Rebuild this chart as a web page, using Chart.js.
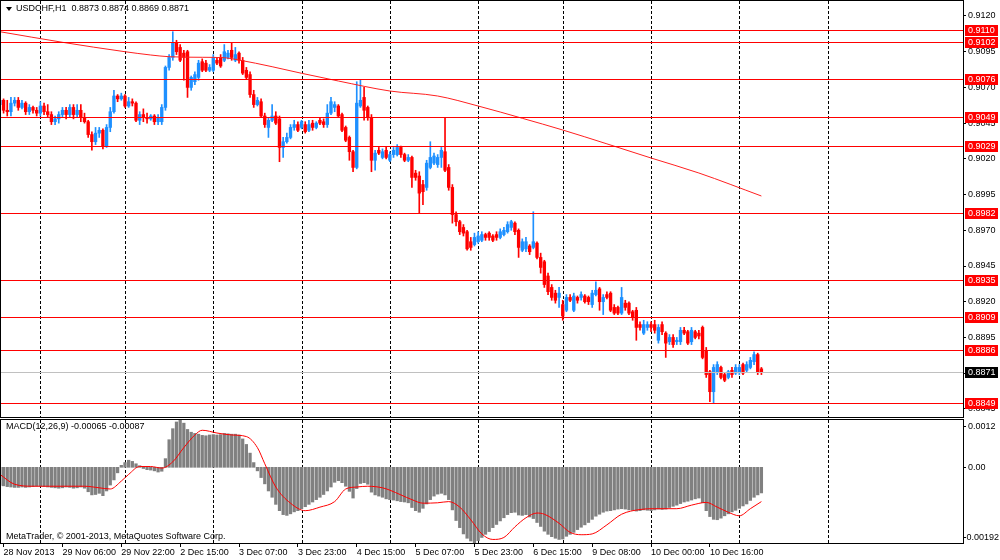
<!DOCTYPE html>
<html>
<head>
<meta charset="utf-8">
<title>USDCHF,H1</title>
<script src="https://cdn.jsdelivr.net/npm/chart.js@4.4.0/dist/chart.umd.min.js"></script>
<style>
  html, body { margin: 0; padding: 0; background: #fff; }
  #wrap { position: relative; width: 1000px; height: 560px; overflow: hidden; font-family: "Liberation Sans", Arial, sans-serif; }
  #main { position: absolute; left: 0; top: 0; }
  #macd { position: absolute; left: 0; top: 418px; }
  .lbl { position: absolute; font-size: 9px; line-height: 11px; color: #000; white-space: pre; }
  .tri { position: absolute; left: 6px; top: 7px; width: 0; height: 0; border-left: 3px solid transparent; border-right: 3px solid transparent; border-top: 4px solid #000; }
</style>
</head>
<body>
<div id="wrap">
  <canvas id="main" width="1000" height="418"></canvas>
  <canvas id="macd" width="1000" height="142"></canvas>
  <div class="tri"></div>
  <div class="lbl" style="left:16px;top:3px">USDCHF,H1  0.8873 0.8874 0.8869 0.8871</div>
  <div class="lbl" style="left:6px;top:421px">MACD(12,26,9) -0.00065 -0.00087</div>
  <div class="lbl" style="left:6px;top:531px">MetaTrader, © 2001-2013, MetaQuotes Software Corp.</div>
</div>
<script>
// hourly bars, 28 Nov 2013 13:00 .. 11 Dec 2013 06:00
const opens = [
  0.9058,0.9061,0.9054,0.9053,0.9059,0.9061,0.9056,0.9059,0.9053,0.9056,
  0.9054,0.9052,0.9057,0.9053,0.9051,0.9046,0.9048,0.9051,0.9054,0.9051,
  0.9056,0.9051,0.9054,0.9049,0.9046,0.9037,0.9032,0.9038,0.9040,0.9029,
  0.9042,0.9053,0.9064,0.9062,0.9064,0.9057,0.9060,0.9059,0.9047,0.9051,
  0.9049,0.9048,0.9050,0.9046,0.9046,0.9056,0.9084,0.9091,0.9101,0.9098,
  0.9094,0.9095,0.9070,0.9074,0.9077,0.9088,0.9087,0.9082,0.9082,0.9089,
  0.9091,0.9089,0.9091,0.9096,0.9089,0.9094,0.9089,0.9082,0.9079,0.9065,
  0.9058,0.9060,0.9050,0.9042,0.9047,0.9050,0.9048,0.9028,0.9032,0.9035,
  0.9042,0.9044,0.9042,0.9044,0.9040,0.9045,0.9042,0.9047,0.9046,0.9044,
  0.9052,0.9056,0.9057,0.9051,0.9042,0.9035,0.9025,0.9014,0.9057,0.9063,
  0.9056,0.9049,0.9019,0.9026,0.9021,0.9026,0.9019,0.9023,0.9023,0.9028,
  0.9023,0.9019,0.9021,0.9010,0.9008,0.9002,0.9000,0.9014,0.9017,0.9016,
  0.9021,0.9025,0.9014,0.9000,0.8981,0.8976,0.8972,0.8969,0.8962,0.8960,
  0.8962,0.8963,0.8967,0.8968,0.8966,0.8967,0.8965,0.8967,0.8969,0.8972,
  0.8975,0.8970,0.8956,0.8957,0.8959,0.8958,0.8961,0.8951,0.8948,0.8938,
  0.8930,0.8926,0.8923,0.8918,0.8914,0.8923,0.8914,0.8923,0.8923,0.8924,
  0.8923,0.8918,0.8925,0.8929,0.8920,0.8925,0.8926,0.8916,0.8916,0.8912,
  0.8919,0.8919,0.8913,0.8914,0.8904,0.8898,0.8902,0.8904,0.8904,0.8893,
  0.8904,0.8898,0.8892,0.8895,0.8892,0.8892,0.8900,0.8899,0.8892,0.8899,
  0.8898,0.8902,0.8886,0.8871,0.8857,0.8871,0.8874,0.8869,0.8867,0.8872,
  0.8870,0.8871,0.8876,0.8872,0.8874,0.8878,0.8883,0.8873
];
const highs = [
  0.9064,0.9062,0.9061,0.9063,0.9063,0.9063,0.9061,0.9060,0.9058,0.9057,
  0.9056,0.9060,0.9059,0.9058,0.9053,0.9050,0.9053,0.9056,0.9056,0.9058,
  0.9058,0.9058,0.9058,0.9052,0.9047,0.9039,0.9042,0.9042,0.9041,0.9044,
  0.9056,0.9068,0.9065,0.9066,0.9065,0.9063,0.9062,0.9060,0.9053,0.9055,
  0.9052,0.9051,0.9051,0.9051,0.9058,0.9085,0.9093,0.9109,0.9103,0.9100,
  0.9096,0.9096,0.9078,0.9081,0.9089,0.9090,0.9089,0.9086,0.9093,0.9091,
  0.9093,0.9100,0.9096,0.9101,0.9098,0.9095,0.9091,0.9084,0.9081,0.9068,
  0.9063,0.9062,0.9052,0.9049,0.9058,0.9053,0.9050,0.9035,0.9038,0.9044,
  0.9047,0.9046,0.9047,0.9046,0.9047,0.9047,0.9046,0.9049,0.9048,0.9058,
  0.9063,0.9060,0.9058,0.9052,0.9043,0.9036,0.9026,0.9074,0.9075,0.9070,
  0.9057,0.9051,0.9026,0.9028,0.9027,0.9028,0.9025,0.9028,0.9030,0.9029,
  0.9024,0.9023,0.9022,0.9012,0.9011,0.9005,0.9019,0.9032,0.9024,0.9023,
  0.9028,0.9049,0.9016,0.9002,0.8983,0.8977,0.8974,0.8970,0.8965,0.8968,
  0.8969,0.8969,0.8968,0.8969,0.8967,0.8969,0.8971,0.8972,0.8976,0.8977,
  0.8976,0.8971,0.8964,0.8965,0.8960,0.8983,0.8962,0.8954,0.8949,0.8940,
  0.8932,0.8928,0.8930,0.8921,0.8925,0.8925,0.8926,0.8924,0.8927,0.8925,
  0.8924,0.8928,0.8934,0.8930,0.8925,0.8927,0.8927,0.8918,0.8917,0.8930,
  0.8921,0.8920,0.8914,0.8916,0.8906,0.8907,0.8906,0.8906,0.8907,0.8904,
  0.8906,0.8899,0.8897,0.8897,0.8895,0.8902,0.8902,0.8900,0.8902,0.8900,
  0.8900,0.8903,0.8888,0.8872,0.8876,0.8878,0.8875,0.8870,0.8872,0.8874,
  0.8876,0.8876,0.8877,0.8878,0.8881,0.8885,0.8884,0.8874
];
const lows = [
  0.9056,0.9052,0.9050,0.9050,0.9057,0.9054,0.9055,0.9051,0.9051,0.9052,
  0.9050,0.9050,0.9051,0.9049,0.9044,0.9044,0.9045,0.9049,0.9048,0.9049,
  0.9048,0.9049,0.9046,0.9045,0.9035,0.9026,0.9030,0.9035,0.9027,0.9028,
  0.9039,0.9052,0.9060,0.9061,0.9056,0.9056,0.9057,0.9046,0.9044,0.9046,
  0.9045,0.9047,0.9044,0.9044,0.9044,0.9054,0.9082,0.9089,0.9093,0.9088,
  0.9075,0.9063,0.9068,0.9072,0.9075,0.9081,0.9081,0.9081,0.9081,0.9086,
  0.9084,0.9088,0.9090,0.9089,0.9088,0.9087,0.9079,0.9076,0.9063,0.9056,
  0.9057,0.9049,0.9042,0.9035,0.9046,0.9044,0.9018,0.9021,0.9031,0.9034,
  0.9040,0.9039,0.9041,0.9038,0.9039,0.9040,0.9041,0.9044,0.9042,0.9042,
  0.9051,0.9053,0.9049,0.9039,0.9032,0.9019,0.9011,0.9013,0.9056,0.9047,
  0.9047,0.9011,0.9012,0.9023,0.9020,0.9020,0.9018,0.9021,0.9022,0.9021,
  0.9018,0.9018,0.9000,0.9005,0.8982,0.8988,0.8998,0.9013,0.9016,0.9014,
  0.9014,0.9011,0.8998,0.8975,0.8973,0.8967,0.8966,0.8956,0.8956,0.8959,
  0.8961,0.8962,0.8963,0.8963,0.8962,0.8963,0.8964,0.8966,0.8968,0.8970,
  0.8967,0.8951,0.8955,0.8955,0.8953,0.8957,0.8950,0.8940,0.8930,0.8925,
  0.8921,0.8919,0.8916,0.8907,0.8913,0.8920,0.8913,0.8919,0.8921,0.8919,
  0.8918,0.8916,0.8924,0.8914,0.8911,0.8922,0.8913,0.8911,0.8911,0.8911,
  0.8914,0.8911,0.8907,0.8893,0.8900,0.8897,0.8900,0.8899,0.8898,0.8891,
  0.8897,0.8881,0.8890,0.8888,0.8890,0.8890,0.8897,0.8890,0.8890,0.8894,
  0.8894,0.8880,0.8867,0.8850,0.8849,0.8869,0.8866,0.8864,0.8866,0.8867,
  0.8869,0.8869,0.8869,0.8871,0.8873,0.8876,0.8869,0.8869
];
const closes = [
  0.9061,0.9054,0.9053,0.9059,0.9061,0.9056,0.9059,0.9053,0.9056,0.9054,
  0.9052,0.9057,0.9053,0.9051,0.9046,0.9048,0.9051,0.9054,0.9051,0.9056,
  0.9051,0.9054,0.9049,0.9046,0.9037,0.9032,0.9038,0.9040,0.9029,0.9042,
  0.9053,0.9064,0.9062,0.9064,0.9057,0.9060,0.9059,0.9047,0.9051,0.9049,
  0.9048,0.9050,0.9046,0.9049,0.9056,0.9084,0.9091,0.9101,0.9095,0.9089,
  0.9091,0.9070,0.9077,0.9079,0.9087,0.9082,0.9082,0.9084,0.9091,0.9087,
  0.9085,0.9095,0.9094,0.9091,0.9093,0.9089,0.9080,0.9077,0.9065,0.9058,
  0.9061,0.9050,0.9044,0.9047,0.9050,0.9045,0.9028,0.9032,0.9035,0.9042,
  0.9044,0.9040,0.9046,0.9039,0.9044,0.9042,0.9045,0.9045,0.9044,0.9052,
  0.9060,0.9058,0.9050,0.9040,0.9033,0.9025,0.9014,0.9059,0.9061,0.9054,
  0.9049,0.9019,0.9024,0.9024,0.9025,0.9021,0.9023,0.9026,0.9028,0.9023,
  0.9019,0.9021,0.9007,0.9007,0.8996,0.8997,0.9017,0.9021,0.9022,0.9021,
  0.9026,0.9012,0.9000,0.8981,0.8976,0.8969,0.8968,0.8957,0.8958,0.8965,
  0.8966,0.8967,0.8965,0.8965,0.8963,0.8965,0.8969,0.8970,0.8974,0.8976,
  0.8969,0.8958,0.8962,0.8962,0.8955,0.8962,0.8951,0.8944,0.8932,0.8927,
  0.8923,0.8921,0.8926,0.8910,0.8923,0.8921,0.8924,0.8921,0.8925,0.8920,
  0.8920,0.8926,0.8928,0.8920,0.8923,0.8923,0.8914,0.8912,0.8912,0.8923,
  0.8916,0.8912,0.8909,0.8902,0.8902,0.8904,0.8904,0.8902,0.8900,0.8902,
  0.8899,0.8891,0.8895,0.8890,0.8893,0.8900,0.8898,0.8891,0.8900,0.8895,
  0.8896,0.8881,0.8869,0.8857,0.8874,0.8876,0.8867,0.8865,0.8871,0.8869,
  0.8874,0.8874,0.8870,0.8876,0.8879,0.8883,0.8871,0.8871
];

// moving average read at a few bars
const maIdx  = [0, 17, 34, 41, 46, 55, 61, 65, 74, 82, 92, 106, 119, 130, 142, 153, 165, 177, 190, 207];
const maVals = [0.91090, 0.91016, 0.90950, 0.90927, 0.90915, 0.90911, 0.90908, 0.90892, 0.90845, 0.90799,
                0.90745, 0.90675, 0.90640, 0.90570, 0.90484, 0.90402, 0.90305, 0.90206, 0.90101, 0.89940];

// horizontal levels and last price
const levels = [0.9110, 0.9102, 0.9076, 0.9049, 0.9029, 0.8982, 0.8935, 0.8909, 0.8886, 0.8849];
const lastPrice = 0.8871;
const priceTicks = [0.9120, 0.9095, 0.9070, 0.9045, 0.9020, 0.8995, 0.8970, 0.8945, 0.8920, 0.8895, 0.8870, 0.8845];

// MACD(12,26,9) main values, one per bar
const macdMain = [
  -0.00046,-0.00047,-0.00049,-0.00050,-0.00051,-0.00051,-0.00050,-0.00051,-0.00050,-0.00049,
  -0.00048,-0.00048,-0.00049,-0.00050,-0.00051,-0.00052,-0.00053,-0.00052,-0.00050,-0.00051,
  -0.00053,-0.00052,-0.00050,-0.00053,-0.00062,-0.00070,-0.00069,-0.00066,-0.00072,-0.00060,
  -0.00045,-0.00032,-0.00014, 0.00005, 0.00012, 0.00018, 0.00015, 0.00009, 0.00004,-0.00003,
  -0.00006,-0.00007,-0.00009,-0.00012,-0.00010, 0.00022, 0.00070, 0.00098, 0.00115, 0.00120,
   0.00112, 0.00096, 0.00089, 0.00086, 0.00084, 0.00081, 0.00080, 0.00082, 0.00083, 0.00082,
   0.00083, 0.00086, 0.00085, 0.00084, 0.00084, 0.00082, 0.00072, 0.00058, 0.00036, 0.00012,
  -0.00009,-0.00026,-0.00042,-0.00060,-0.00076,-0.00094,-0.00110,-0.00120,-0.00122,-0.00118,
  -0.00113,-0.00110,-0.00105,-0.00100,-0.00094,-0.00088,-0.00082,-0.00076,-0.00069,-0.00060,
  -0.00050,-0.00038,-0.00034,-0.00039,-0.00048,-0.00061,-0.00078,-0.00054,-0.00041,-0.00039,
  -0.00043,-0.00063,-0.00070,-0.00073,-0.00076,-0.00080,-0.00082,-0.00083,-0.00085,-0.00087,
  -0.00088,-0.00090,-0.00102,-0.00110,-0.00114,-0.00104,-0.00093,-0.00082,-0.00073,-0.00068,
  -0.00066,-0.00070,-0.00082,-0.00108,-0.00135,-0.00153,-0.00169,-0.00180,-0.00187,-0.00192,
  -0.00186,-0.00178,-0.00170,-0.00163,-0.00153,-0.00145,-0.00136,-0.00128,-0.00120,-0.00115,
  -0.00114,-0.00121,-0.00122,-0.00120,-0.00126,-0.00130,-0.00140,-0.00150,-0.00162,-0.00170,
  -0.00176,-0.00180,-0.00183,-0.00182,-0.00175,-0.00170,-0.00165,-0.00158,-0.00152,-0.00146,
  -0.00140,-0.00132,-0.00124,-0.00119,-0.00114,-0.00111,-0.00110,-0.00108,-0.00106,-0.00105,
  -0.00106,-0.00108,-0.00109,-0.00111,-0.00110,-0.00108,-0.00109,-0.00110,-0.00108,-0.00106,
  -0.00107,-0.00106,-0.00102,-0.00099,-0.00096,-0.00092,-0.00088,-0.00086,-0.00083,-0.00080,
  -0.00078,-0.00090,-0.00110,-0.00125,-0.00132,-0.00133,-0.00129,-0.00123,-0.00118,-0.00113,
  -0.00109,-0.00104,-0.00098,-0.00093,-0.00084,-0.00076,-0.00070,-0.00065
];
// signal line read at a few bars
const sigIdx  = [0, 4, 9, 18, 23, 27, 30, 33, 35, 38, 41, 44, 47, 50, 53, 55, 59, 63, 67, 70,
                 72, 75, 79, 83, 87, 91, 94, 97, 100, 104, 106, 109, 112, 115, 119, 122, 125, 128, 131, 134,
                 137, 140, 143, 146, 148, 152, 155, 158, 161, 165, 169, 174, 178, 184, 188, 192, 195, 198, 201, 204, 207];
const sigVals = [-0.00018,-0.00043,-0.00048,-0.00048,-0.00048,-0.00052,-0.00055,-0.00035,-0.00018, 0.00002,
                  0.00002,-0.00002, 0.00014, 0.00050, 0.00082, 0.00094, 0.00087, 0.00082, 0.00078, 0.00050,
                  0.00009,-0.00050,-0.00091,-0.00110,-0.00101,-0.00087,-0.00055,-0.00050,-0.00048,-0.00052,
                 -0.00058,-0.00070,-0.00082,-0.00091,-0.00090,-0.00087,-0.00101,-0.00133,-0.00169,-0.00183,
                 -0.00178,-0.00151,-0.00128,-0.00116,-0.00119,-0.00142,-0.00165,-0.00171,-0.00169,-0.00146,
                 -0.00119,-0.00107,-0.00105,-0.00105,-0.00096,-0.00089,-0.00101,-0.00114,-0.00123,-0.00105,-0.00087];
const macdTicks = [0.0012, 0, -0.00192];
const macdTickLabels = ['0.0012', '0.00', '-0.00192'];

// day separators and time axis
const daySeparators = [11, 34, 58, 82, 106, 130, 153, 177, 201, 225];
const timeIdx = [1, 17, 33, 49, 65, 81, 97, 113, 129, 145, 161, 177, 193];
const timeLabels = ['28 Nov 2013', '29 Nov 06:00', '29 Nov 22:00', '2 Dec 15:00', '3 Dec 07:00', '3 Dec 23:00',
                    '4 Dec 15:00', '5 Dec 07:00', '5 Dec 23:00', '6 Dec 15:00', '9 Dec 08:00', '10 Dec 00:00', '10 Dec 16:00'];

const xMin = 0.3, xMax = 261.8;
const bull = '#1e90ff', bear = '#ff0000';
const fontFamily = '"Liberation Sans", Arial, sans-serif';
const candleColor = ctx => closes[ctx.dataIndex] >= opens[ctx.dataIndex] ? bull : bear;

function drawSeparators(chart) {
  const { ctx, chartArea: a, scales: { x } } = chart;
  ctx.save();
  ctx.beginPath();
  ctx.rect(a.left, a.top, a.right - a.left, a.bottom - a.top);
  ctx.clip();
  ctx.strokeStyle = '#000';
  ctx.lineWidth = 1;
  ctx.setLineDash([3, 2]);
  daySeparators.forEach(d => {
    const px = Math.round(x.getPixelForValue(d)) + 0.5;
    ctx.beginPath();
    ctx.moveTo(px, a.top);
    ctx.lineTo(px, a.bottom);
    ctx.stroke();
  });
  ctx.restore();
}

function drawFrame(chart) {
  const { ctx, chartArea: a } = chart;
  ctx.save();
  ctx.strokeStyle = '#000';
  ctx.lineWidth = 1;
  ctx.strokeRect(a.left - 0.5, a.top - 0.5, a.right - a.left + 1, a.bottom - a.top + 1);
  ctx.restore();
}

// keep the plot area flush with the canvas edges
function noLabelPadding(s) {
  s.paddingTop = 0;
  s.paddingBottom = 0;
}

const mainDecor = {
  id: 'mainDecor',
  beforeDatasetsDraw: drawSeparators,
  afterDatasetsDraw(chart) {
    const { ctx, chartArea: a, scales: { y } } = chart;
    ctx.save();
    ctx.lineWidth = 1;
    const hline = (v, color) => {
      const py = Math.round(y.getPixelForValue(v)) + 0.5;
      ctx.strokeStyle = color;
      ctx.beginPath();
      ctx.moveTo(a.left, py);
      ctx.lineTo(a.right, py);
      ctx.stroke();
    };
    hline(lastPrice, '#c0c0c0');
    levels.forEach(v => hline(v, '#ff0000'));
    ctx.restore();
  },
  afterDraw(chart) {
    const { ctx, chartArea: a, scales: { y } } = chart;
    drawFrame(chart);
    ctx.save();
    ctx.font = '9px ' + fontFamily;
    ctx.textBaseline = 'middle';
    const box = (v, fill) => {
      const py = Math.round(y.getPixelForValue(v));
      ctx.fillStyle = fill;
      ctx.fillRect(a.right + 2, py - 5, 33, 11);
      ctx.fillStyle = '#fff';
      ctx.fillText(v.toFixed(4), a.right + 5, py + 0.5);
    };
    levels.forEach(v => box(v, '#ff0000'));
    box(lastPrice, '#000');
    ctx.restore();
  }
};

const macdDecor = {
  id: 'macdDecor',
  beforeDatasetsDraw: drawSeparators,
  afterDraw(chart) {
    const { ctx, chartArea: a, scales: { y } } = chart;
    drawFrame(chart);
    ctx.save();
    ctx.font = '9px ' + fontFamily;
    ctx.textBaseline = 'middle';
    ctx.fillStyle = '#000';
    ctx.strokeStyle = '#000';
    macdTicks.forEach((v, i) => {
      let py = y.getPixelForValue(v);
      py = Math.round(Math.min(Math.max(py, a.top + 6), a.bottom - 6));
      ctx.beginPath();
      ctx.moveTo(a.right, py + 0.5);
      ctx.lineTo(a.right + 3, py + 0.5);
      ctx.stroke();
      const w = ctx.measureText(macdTickLabels[i]).width;
      const tx = Math.min(a.right + 5, chart.width - 1 - w);
      ctx.fillText(macdTickLabels[i], tx, py + 0.5);
    });
    ctx.restore();
  }
};

const bars = opens.map((_, i) => i);

new Chart(document.getElementById('main'), {
  type: 'bar',
  data: {
    datasets: [
      {
        type: 'line',
        data: maIdx.map((x, i) => ({ x, y: maVals[i] })),
        borderColor: '#ff2020',
        borderWidth: 1,
        pointRadius: 0,
        cubicInterpolationMode: 'monotone',
        order: 0
      },
      {
        data: bars.map(i => ({ x: i, y: [opens[i], closes[i]] })),
        backgroundColor: candleColor,
        barThickness: 2.7,
        minBarLength: 1,
        grouped: false,
        order: 1
      },
      {
        data: bars.map(i => ({ x: i, y: [lows[i], highs[i]] })),
        backgroundColor: candleColor,
        barThickness: 1,
        grouped: false,
        order: 2
      }
    ]
  },
  options: {
    responsive: false,
    animation: false,
    devicePixelRatio: 1,
    layout: { padding: { left: 1, top: 1, right: 0, bottom: 1 } },
    plugins: { legend: { display: false }, tooltip: { enabled: false } },
    scales: {
      x: { type: 'linear', min: xMin, max: xMax, offset: false, display: false },
      y: {
        position: 'right',
        min: 0.88393,
        max: 0.91305,
        afterFit(s) { s.width = 37; noLabelPadding(s); },
        afterBuildTicks(s) { s.ticks = priceTicks.map(v => ({ value: v })); },
        ticks: { autoSkip: false, padding: 2, color: '#000', font: { family: fontFamily, size: 9 },
                 callback: v => v.toFixed(4) },
        grid: { drawOnChartArea: false, tickLength: 3, color: '#000' },
        border: { display: false }
      }
    }
  },
  plugins: [mainDecor]
});

new Chart(document.getElementById('macd'), {
  type: 'bar',
  data: {
    datasets: [
      {
        type: 'line',
        data: sigIdx.map((x, i) => ({ x, y: sigVals[i] })),
        borderColor: '#ff0000',
        borderWidth: 1,
        pointRadius: 0,
        cubicInterpolationMode: 'monotone',
        order: 0
      },
      {
        data: macdMain.map((v, i) => ({ x: i, y: v })),
        backgroundColor: '#808080',
        barThickness: 2.6,
        order: 1
      }
    ]
  },
  options: {
    responsive: false,
    animation: false,
    devicePixelRatio: 1,
    layout: { padding: { left: 1, top: 2, right: 0, bottom: 0 } },
    plugins: { legend: { display: false }, tooltip: { enabled: false } },
    scales: {
      x: {
        type: 'linear', min: xMin, max: xMax, offset: false,
        afterFit(s) { s.height = 17; s.paddingLeft = 0; s.paddingRight = 0; },
        afterBuildTicks(s) { s.ticks = timeIdx.map(v => ({ value: v })); },
        ticks: { autoSkip: false, maxRotation: 0, align: 'start', padding: 0, color: '#000',
                 font: { family: fontFamily, size: 9 },
                 callback: (v, i) => timeLabels[i] },
        grid: { drawOnChartArea: false, tickLength: 4, color: '#000', offset: false },
        border: { display: false }
      },
      y: {
        position: 'right', min: -0.00192, max: 0.0012,
        afterFit(s) { s.width = 37; noLabelPadding(s); },
        ticks: { display: false },
        grid: { display: false },
        border: { display: false }
      }
    }
  },
  plugins: [macdDecor]
});
</script>
</body>
</html>
